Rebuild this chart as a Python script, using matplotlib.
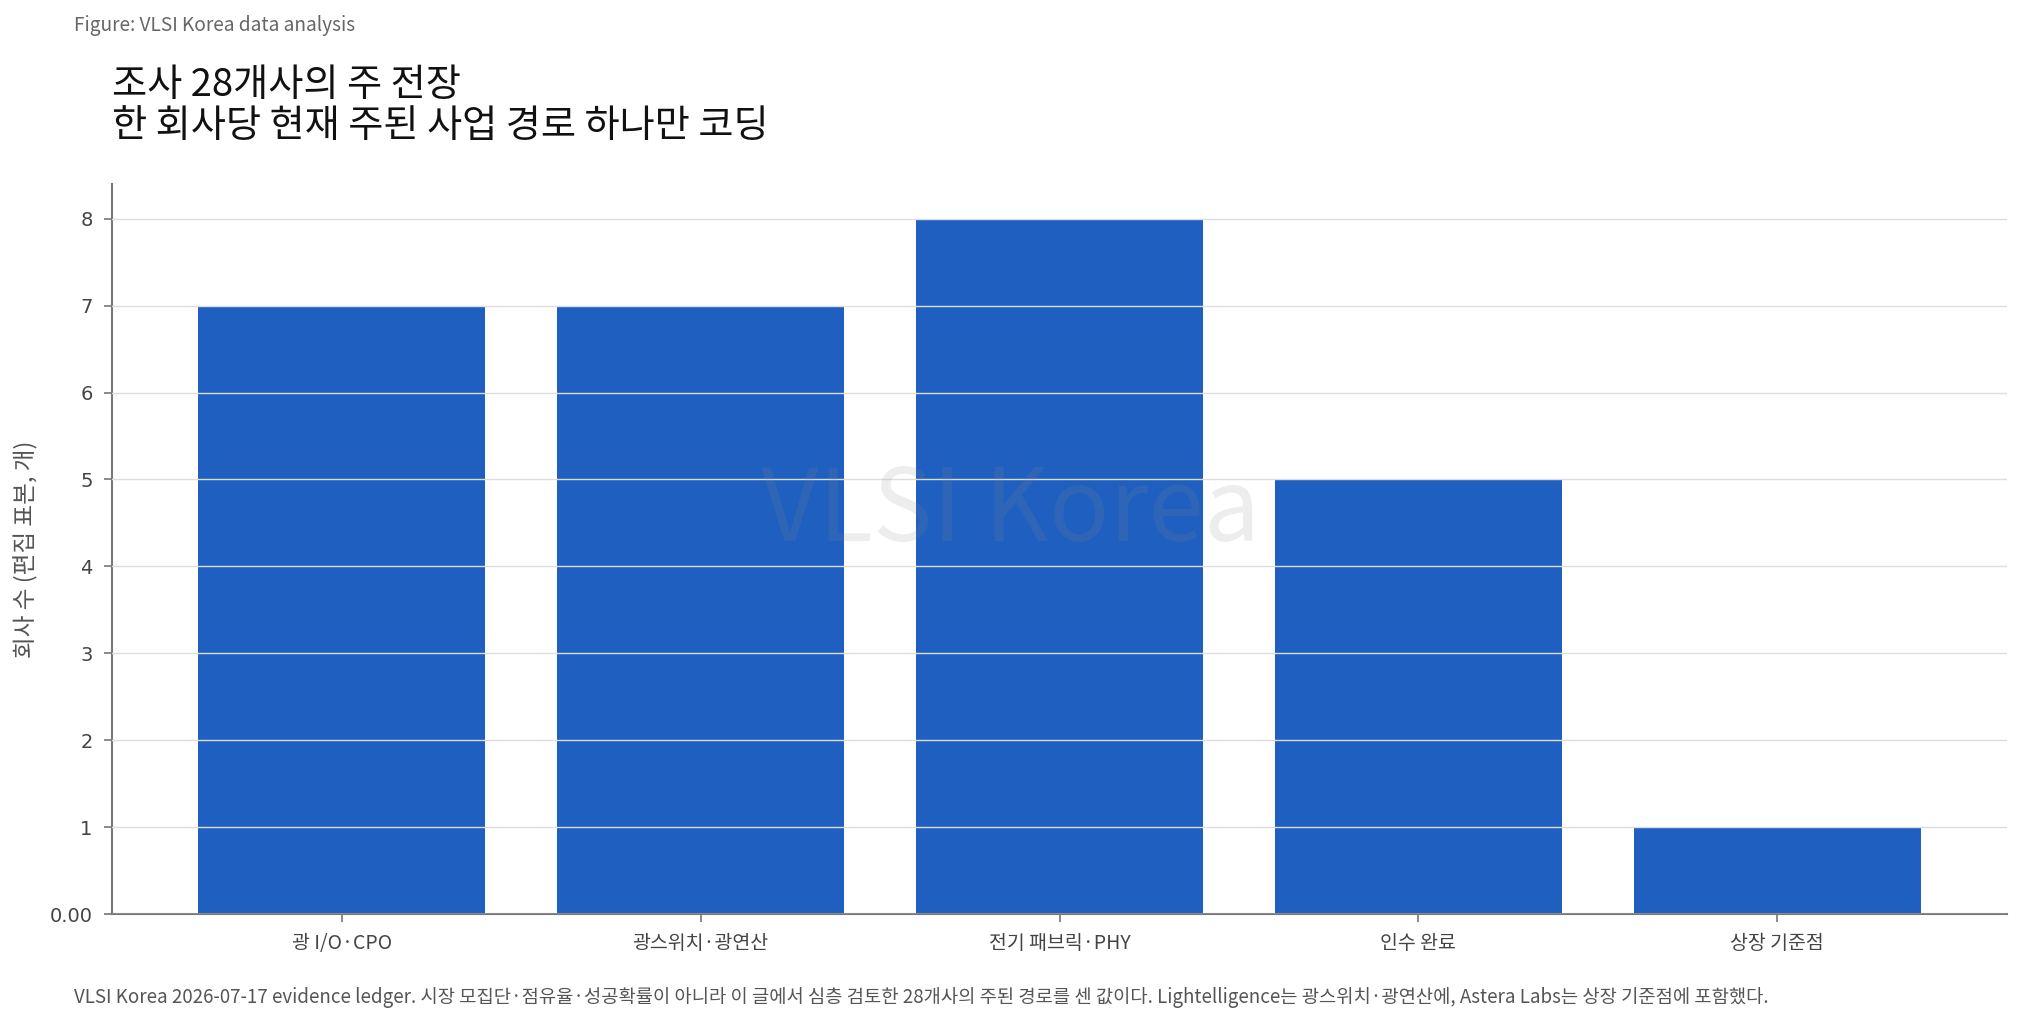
import numpy as np
import matplotlib.pyplot as plt

plt.rcParams['font.family'] = ['Noto Sans CJK KR', 'DejaVu Sans']

# data
categories = ['광 I/O·CPO', '광스위치·광연산', '전기 패브릭·PHY', '인수 완료', '상장 기준점']
counts = [7, 7, 8, 5, 1]
yticks = [0, 1, 2, 3, 4, 5, 6, 7, 8]
ytick_labels = ['0.00', '1', '2', '3', '4', '5', '6', '7', '8']

title = '조사 28개사의 주 전장\n한 회사당 현재 주된 사업 경로 하나만 코딩'
note = ('VLSI Korea 2026-07-17 evidence ledger. 시장 모집단·점유율·성공확률이 아니라 이 글에서 심층 검토한 '
        '28개사의 주된 경로를 센 값이다. Lightelligence는 광스위치·광연산에, Astera Labs는 상장 기준점에 포함했다.')

fig = plt.figure(figsize=(20.22, 10.25), dpi=100)
ax = fig.add_axes([112 / 2022, 1 - 914 / 1025, (2007 - 112) / 2022, (914 - 184) / 1025])

x = np.arange(len(categories))
ax.bar(x, counts, width=0.8, color='#1f5fbf', zorder=2)

ax.set_xlim(-0.64, 4.64)
ax.set_ylim(0, 8.4)
ax.set_xticks(x)
ax.set_xticklabels(categories, fontsize=14, color='#444444')
ax.set_yticks(yticks)
ax.set_yticklabels(ytick_labels, fontsize=14, color='#444444', family='DejaVu Sans')
ax.tick_params(axis='both', length=6, color='#777777', width=1.2, pad=8)

# grid sits on top of the bars
ax.grid(axis='y', color='#dddddd', linewidth=1, zorder=3)
ax.set_axisbelow(False)
for s in ['top', 'right']:
    ax.spines[s].set_visible(False)
for s in ['left', 'bottom']:
    ax.spines[s].set_color('#777777')
    ax.spines[s].set_linewidth(1.5)

ax.set_ylabel('회사 수 (편집 표본, 개)', fontsize=17, color='#555555', labelpad=8)

fig.text(74 / 2022, 1 - 26 / 1025, 'Figure: VLSI Korea data analysis', fontsize=13.75,
         color='#666666', va='center', ha='left')
fig.text(112 / 2022, 1 - 106 / 1025, title, fontsize=27.5, color='#111111',
         va='center', ha='left', linespacing=1.05)
fig.text(74 / 2022, 1 - 998 / 1025, note, fontsize=13.5, color='#555555', va='center', ha='left')

# watermark
fig.text(0.5, 0.5, 'VLSI Korea', fontsize=72, color='#888888', alpha=0.15,
         ha='center', va='center', zorder=10)

fig.savefig('out.png', dpi=100)
